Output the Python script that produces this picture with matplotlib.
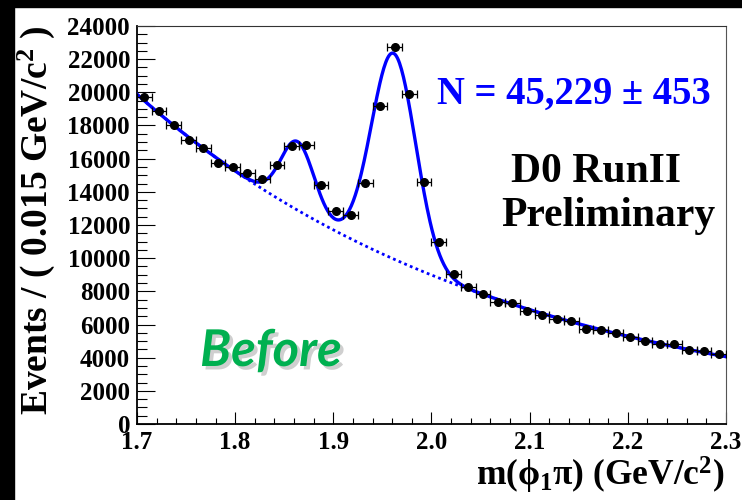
import numpy as np
import matplotlib
matplotlib.use("Agg")
import matplotlib.pyplot as plt
import matplotlib.patheffects as pe
from matplotlib.patches import Rectangle
from matplotlib.ticker import MultipleLocator

plt.rcParams["font.family"] = "Liberation Serif"
plt.rcParams["font.weight"] = "bold"
plt.rcParams["mathtext.fontset"] = "custom"
plt.rcParams["mathtext.rm"] = "Liberation Serif:bold"
plt.rcParams["mathtext.it"] = "Liberation Serif:bold"
plt.rcParams["mathtext.bf"] = "Liberation Serif:bold"

# phi pi mass histogram, 0.015 GeV bins from 1.7 to 2.3
bin_width = 0.015
bin_lo = 1.7
counts = [19700, 18850, 18000, 17130, 16620, 15720, 15520, 15160, 14770, 15640,
          16780, 16840, 14410, 12820, 12580, 14530, 19180, 22730, 19900, 14590,
          10980, 9050, 8280, 7840, 7380, 7280, 6790, 6590, 6350, 6190,
          5750, 5650, 5470, 5250, 5030, 4840, 4800, 4460, 4420, 4200]

# fit: exponential background + D+ and Ds gaussians
bkg_norm = 19880
bkg_slope = -2.648
dplus_amp, dplus_mean, dplus_sigma = 4137, 1.8637, 0.017
ds_amp, ds_mean, ds_sigma = 12404, 1.9614, 0.0225


def background(m):
    return bkg_norm * np.exp(bkg_slope * (m - bin_lo))


def fit_model(m):
    g1 = dplus_amp * np.exp(-0.5 * ((m - dplus_mean) / dplus_sigma) ** 2)
    g2 = ds_amp * np.exp(-0.5 * ((m - ds_mean) / ds_sigma) ** 2)
    return background(m) + g1 + g2


centers = bin_lo + bin_width * (np.arange(len(counts)) + 0.5)
mm = np.linspace(1.7, 2.3, 600)

fig = plt.figure(figsize=(7.42, 5.0), dpi=100)
ax = fig.add_axes([137 / 742, 1 - 424 / 500, 589 / 742, 398 / 500])

ax.plot(mm, background(mm), color="#0000ff", lw=2.0, ls=(0, (1, 1.2)), zorder=2)
ax.plot(mm, fit_model(mm), color="#0000ff", lw=2.4, zorder=3)
ax.errorbar(centers, counts, xerr=bin_width / 2, fmt="o", color="black",
            ms=5.5, elinewidth=0.9, capsize=2.6, capthick=0.9, zorder=4)

ax.set_xlim(1.7, 2.3)
ax.set_ylim(0, 24000)
ax.xaxis.set_minor_locator(MultipleLocator(0.02))
ax.yaxis.set_major_locator(MultipleLocator(2000))
ax.yaxis.set_minor_locator(MultipleLocator(500))
ax.set_xticks(np.arange(1.7, 2.31, 0.1))
ax.set_xticklabels(["1.7", "1.8", "1.9", "2.0", "2.1", "2.2", "2.3"])
ax.tick_params(axis="both", which="both", direction="in", width=0.8,
               labelsize=18, top=False, right=False)
ax.tick_params(axis="y", which="major", length=13, pad=5)
ax.tick_params(axis="y", which="minor", length=7)
ax.tick_params(axis="x", which="major", length=8.6, pad=5)
ax.tick_params(axis="x", which="minor", length=4.3)
for lab in ax.get_xticklabels() + ax.get_yticklabels():
    lab.set_fontweight("bold")
ax.spines["left"].set_linewidth(1.3)
ax.spines["bottom"].set_linewidth(1.3)
ax.spines["top"].set_linewidth(0.8)
ax.spines["right"].set_linewidth(0.8)
ax.spines["top"].set_color("#333333")
ax.spines["right"].set_color("#555555")

fig.text(36 / 742, 1 - 25 / 500, "Events / ( 0.015 GeV/c$^{2}$ )", rotation=90,
         ha="center", va="top", fontsize=27, fontweight="bold")
fig.text(724 / 742, 1 - 486 / 500, r"m($\phi_{1}\pi$) (GeV/c$^{2}$)",
         ha="right", va="baseline", fontsize=25.5, fontweight="bold")

fig.text(437 / 742, 1 - 104 / 500, "N = 45,229 \u00b1 453", color="#0000ff",
         ha="left", va="baseline", fontsize=27.8, fontweight="bold")
fig.text(596 / 742, 1 - 182 / 500, "D0 RunII", ha="center", va="baseline",
         fontsize=30, fontweight="bold")
fig.text(608 / 742, 1 - 226 / 500, "Preliminary", ha="center", va="baseline",
         fontsize=30, fontweight="bold")

fig.text(200 / 742, 1 - 366 / 500, "Before", color="#00b050", family="Lato",
         style="italic", fontweight="bold", fontsize=36.5, ha="left", va="baseline",
         path_effects=[pe.SimplePatchShadow(offset=(2.5, -2.5), shadow_rgbFace="#888888", alpha=0.4),
                       pe.Normal()])

# dark frame along top and left edges
fig.add_artist(Rectangle((0, 1 - 7 / 500), 1, 7 / 500, transform=fig.transFigure,
                         color="black", zorder=10))
fig.add_artist(Rectangle((0, 0), 14 / 742, 1, transform=fig.transFigure,
                         color="black", zorder=10))

fig.savefig("out.png", dpi=100)
